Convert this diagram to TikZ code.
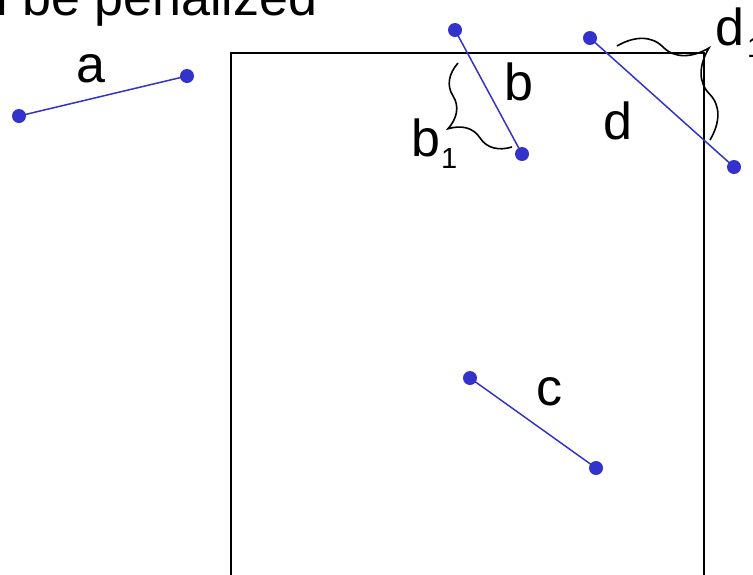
\documentclass[tikz,border=0pt]{standalone}
\usepackage{fontspec}
\setmainfont{Liberation Sans}
\usetikzlibrary{decorations.pathreplacing}
\definecolor{segblue}{RGB}{51,51,204}
\begin{document}
\begin{tikzpicture}[x=1pt,y=-1pt,
  dot/.style={circle,fill=segblue,inner sep=0pt,minimum size=14pt},
  seg/.style={draw=segblue,line width=1.5pt},
  box/.style={draw=black,line width=2pt},
  bracestyle/.style={draw=black,line width=1.6pt,decorate},
  lbl/.style={inner sep=0pt,anchor=base west,font=\fontsize{52}{60}\selectfont}]
\useasboundingbox (0,0) rectangle (753,574);
% rectangle
\coordinate (rtl) at (231,53);
\coordinate (rbr) at (704,620);
\draw[box] (rtl) rectangle (rbr);
% top text
\node[lbl] (title) at (22,15) {\llap{will }be penalized};
% segment a
\node[dot] (a1) at (19,116) {};
\node[dot] (a2) at (187,76) {};
\draw[seg] (a1.center) -- (a2.center);
\node[lbl] (la) at (76,82) {a};
% segment b
\node[dot] (b1) at (455,30) {};
\node[dot] (b2) at (522,154) {};
\draw[seg] (b1.center) -- (b2.center);
\node[lbl] (lb) at (504,100) {b};
\coordinate (bb1) at (458,63);
\coordinate (bb2) at (512,147);
\draw[bracestyle,decoration={brace,amplitude=44pt,mirror}] (bb1) -- (bb2);
\node[lbl] (lb1) at (411,156) {b\kern1pt\raisebox{-12pt}{\fontsize{29}{30}\selectfont 1}};
% segment c
\node[dot] (c1) at (470,378) {};
\node[dot] (c2) at (596,468) {};
\draw[seg] (c1.center) -- (c2.center);
\node[lbl] (lc) at (536,405) {c};
% segment d
\node[dot] (d1) at (590,38) {};
\node[dot] (d2) at (734,167) {};
\draw[seg] (d1.center) -- (d2.center);
\node[lbl] (ld) at (603,139) {d};
\coordinate (db1) at (617,46);
\coordinate (db2) at (710,140);
\draw[bracestyle,decoration={brace,amplitude=64pt}] (db1) -- (db2);
\node[lbl] (ld1) at (715,45) {d\kern3pt\raisebox{-12pt}{\fontsize{29}{30}\selectfont 1}};
\end{tikzpicture}
\end{document}
